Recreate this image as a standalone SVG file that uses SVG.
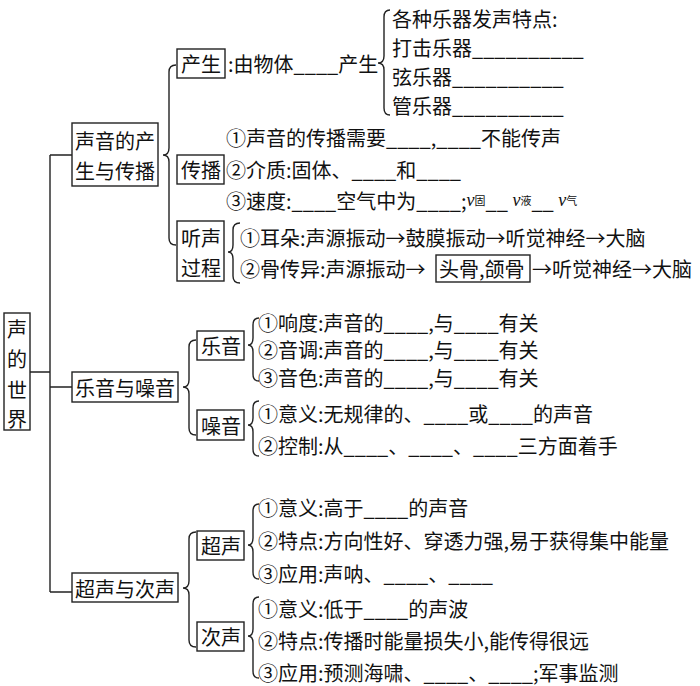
<svg xmlns="http://www.w3.org/2000/svg" width="700" height="686" viewBox="0 0 700 686">
<style>
text{font-family:"Noto Sans CJK SC","Noto Sans",sans-serif;font-size:20px;fill:#111;dominant-baseline:central}
.b{fill:none;stroke:#222;stroke-width:1.4}
.l{fill:none;stroke:#222;stroke-width:1.4}
.s{font-size:11px}
.v{font-family:"Liberation Serif",serif;font-style:italic;font-size:18px}
</style>
<rect width="700" height="686" fill="#fff"/>
<g id="connectors">
<path class="l" d="M30,372 H50 M50,155 V592 M50,155 H72 M50,387 H72 M50,592 H72"/>
<path class="l" d="M176,65 Q169,65 169,72 V148 Q169,155 163,155 Q169,155 169,162 V238 Q169,245 176,245"/>
<path class="l" d="M390,10 Q384,10 384,17 V56 Q384,63 378,63 Q384,63 384,70 V108 Q384,115 390,115"/>
<path class="l" d="M240,223 Q233,223 233,230 V245 Q233,252 228,252 Q233,252 233,259 V276 Q233,283 240,283"/>
<path class="l" d="M196,340 Q189,340 189,347 V380 Q189,387 183,387 Q189,387 189,394 V428 Q189,435 196,435"/>
<path class="l" d="M259,318 Q253,318 253,325 V338 Q253,345 248,345 Q253,345 253,352 V374 Q253,381 259,381"/>
<path class="l" d="M259,401 Q253,401 253,408 V418 Q253,425 248,425 Q253,425 253,432 V449 Q253,456 259,456"/>
<path class="l" d="M196,532 Q189,532 189,539 V581 Q189,588 183,588 Q189,588 189,595 V640 Q189,647 196,647"/>
<path class="l" d="M259,504 Q253,504 253,511 V538 Q253,545 248,545 Q253,545 253,552 V572 Q253,579 259,579"/>
<path class="l" d="M259,597 Q253,597 253,604 V629 Q253,636 248,636 Q253,636 253,643 V671 Q253,678 259,678"/>
</g>
<g id="root"><rect class="b" x="4" y="313" width="26" height="117"/>
<text x="17" y="328" text-anchor="middle">声</text><text x="17" y="358" text-anchor="middle">的</text><text x="17" y="389" text-anchor="middle">世</text><text x="17" y="418" text-anchor="middle">界</text></g>
<g id="n1"><rect class="b" x="72" y="123" width="86" height="63"/><text x="75" y="140">声音的产</text><text x="75" y="170">生与传播</text></g>
<g id="n1a"><rect class="b" x="177" y="49" width="48" height="29"/><text x="181" y="63">产生</text><text x="228" y="63">:由物体____产生</text>
<text x="392" y="18">各种乐器发声特点:</text><text x="392" y="47">打击乐器__________</text><text x="392" y="76">弦乐器__________</text><text x="392" y="105">管乐器__________</text></g>
<g id="n1b"><rect class="b" x="177" y="155" width="47" height="29"/><text x="181" y="169">传播</text>
<text x="226" y="137">①声音的传播需要____,____不能传声</text>
<text x="226" y="169">②介质:固体、____和____</text>
<text x="226" y="200">③速度:____空气中为____;<tspan class="v">v</tspan><tspan class="s">固</tspan>__ <tspan class="v">v</tspan><tspan class="s">液</tspan>__ <tspan class="v">v</tspan><tspan class="s">气</tspan></text></g>
<g id="n1c"><rect class="b" x="177" y="221" width="47" height="60"/><text x="181" y="237">听声</text><text x="181" y="267">过程</text>
<text x="240" y="237">①耳朵:声源振动→鼓膜振动→听觉神经→大脑</text>
<text x="240" y="268">②骨传异:声源振动→</text><rect class="b" x="436" y="255" width="94" height="27"/><text x="439" y="268">头骨,颌骨</text><text x="532" y="268">→听觉神经→大脑</text></g>
<g id="n2"><rect class="b" x="72" y="372" width="106" height="30"/><text x="75" y="387">乐音与噪音</text></g>
<g id="n2a"><rect class="b" x="197" y="331" width="47" height="29"/><text x="201" y="345">乐音</text>
<text x="258" y="322">①响度:声音的____,与____有关</text>
<text x="258" y="349">②音调:声音的____,与____有关</text>
<text x="258" y="377">③音色:声音的____,与____有关</text></g>
<g id="n2b"><rect class="b" x="197" y="410" width="47" height="30"/><text x="201" y="425">噪音</text>
<text x="258" y="413">①意义:无规律的、____或____的声音</text>
<text x="258" y="445">②控制:从____、____、____三方面着手</text></g>
<g id="n3"><rect class="b" x="72" y="573" width="106" height="29"/><text x="75" y="588">超声与次声</text></g>
<g id="n3a"><rect class="b" x="197" y="531" width="47" height="29"/><text x="201" y="545">超声</text>
<text x="258" y="507">①意义:高于____的声音</text>
<text x="258" y="540">②特点:方向性好、穿透力强,易于获得集中能量</text>
<text x="258" y="573">③应用:声呐、____、____</text></g>
<g id="n3b"><rect class="b" x="197" y="622" width="47" height="29"/><text x="201" y="636">次声</text>
<text x="258" y="608">①意义:低于____的声波</text>
<text x="258" y="640">②特点:传播时能量损失小,能传得很远</text>
<text x="258" y="672">③应用:预测海啸、____、____;军事监测</text></g>
</svg>
